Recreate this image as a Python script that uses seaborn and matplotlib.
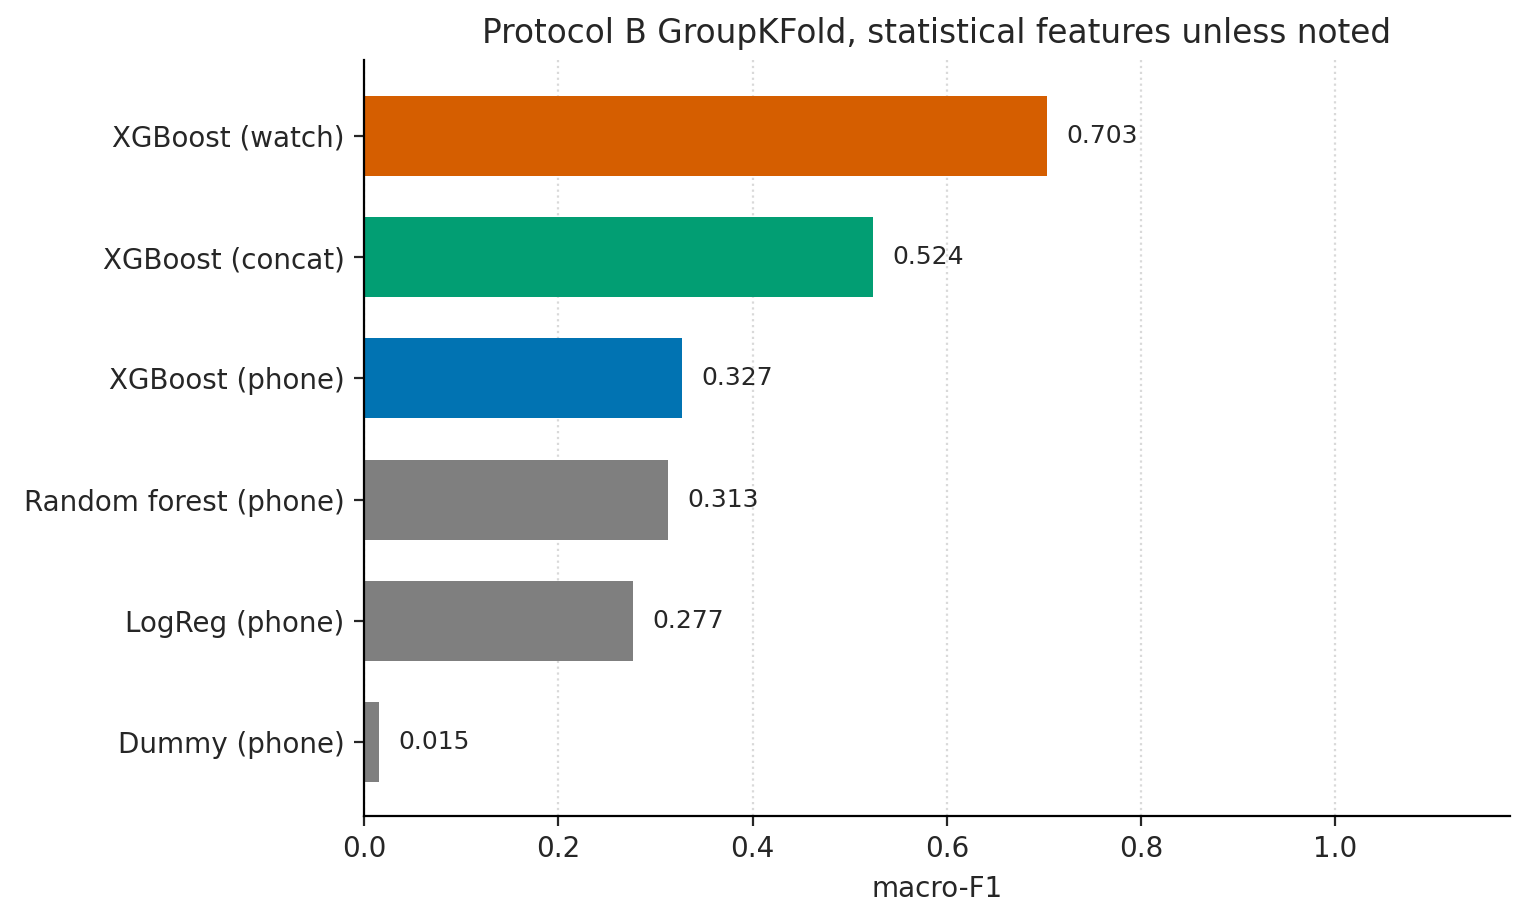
import matplotlib
matplotlib.use("Agg")
import matplotlib.pyplot as plt
import seaborn as sns
import pandas as pd

# data
models = ["XGBoost (watch)", "XGBoost (concat)", "XGBoost (phone)",
          "Random forest (phone)", "LogReg (phone)", "Dummy (phone)"]
macro_f1 = [0.703, 0.524, 0.327, 0.313, 0.277, 0.015]
bar_colors = ["#D55E00", "#029E73", "#0173B2", "#7f7f7f", "#7f7f7f", "#7f7f7f"]

df = pd.DataFrame({"model": models, "f1": macro_f1})

sns.set_theme(style="ticks", rc={
    "axes.edgecolor": "black",
    "axes.linewidth": 0.8,
    "xtick.major.size": 3.5,
    "ytick.major.size": 3.5,
    "xtick.major.width": 0.8,
    "ytick.major.width": 0.8,
    "xtick.major.pad": 3.5,
    "ytick.major.pad": 3.5,
})
plt.rcParams["font.family"] = ["DejaVu Sans"]

fig, ax = plt.subplots(figsize=(7.655, 4.61), dpi=200)
fig.subplots_adjust(left=0.2378, right=0.9863, bottom=0.115, top=0.9349)

sns.barplot(data=df, x="f1", y="model", hue="model", orient="h",
            palette=dict(zip(models, bar_colors)), legend=False,
            width=0.66, saturation=1, linewidth=0, ax=ax)

# value labels next to each bar
for i, v in enumerate(macro_f1):
    ax.text(v + 0.02, i, f"{v:.3f}", ha="left", va="center", fontsize=9,
            color="#262626")

ax.set_xlim(0, 1.18)
ax.set_ylim(5.61, -0.625)
ax.set_xticks([0.0, 0.2, 0.4, 0.6, 0.8, 1.0])
ax.xaxis.grid(True, linestyle=":", color="#d9d9d9", linewidth=0.8)
ax.set_axisbelow(True)
ax.set_xlabel("macro-F1", fontsize=10)
ax.set_ylabel("")
ax.set_title("Protocol B GroupKFold, statistical features unless noted", fontsize=11.8)
ax.tick_params(labelsize=10)
sns.despine(ax=ax)

fig.savefig("out.png", dpi=200)
